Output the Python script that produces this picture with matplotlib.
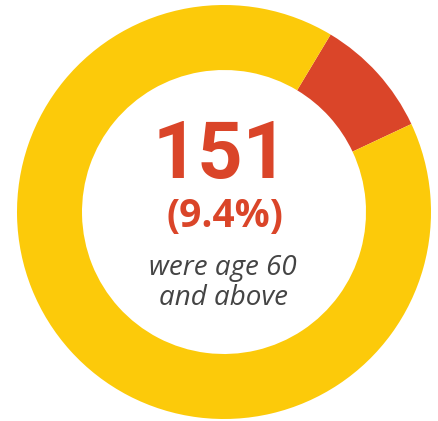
import matplotlib
matplotlib.use("Agg")
import matplotlib.pyplot as plt

labels = ["Age 60 and above", "Under 60"]
values = [151, 1455]
colors = ["#DA4529", "#FCCA0A"]
headline = "151"
share = "(9.4%)"
caption = ["were age 60", "and above"]

W, H = 439, 421
fig = plt.figure(figsize=(W / 100, H / 100), dpi=100)
ax = fig.add_axes([0, 0, 1, 1])
ax.pie(values, colors=colors, startangle=59, counterclock=False,
       center=(224, H - 212), radius=207,
       wedgeprops=dict(width=65, linewidth=0))
ax.set_xlim(0, W)
ax.set_ylim(0, H)
ax.set_aspect("equal")
ax.axis("off")

fam = ["Open Sans", "DejaVu Sans"]
ax.text(221, H - 178, headline, ha="center", va="baseline", fontsize=57,
        fontweight="bold", color=colors[0], family=["Roboto", "DejaVu Sans"])
ax.text(225, H - 227, share, ha="center", va="baseline", fontsize=28,
        fontweight="bold", color=colors[0], family=fam)
ax.text(223, H - 275, caption[0], ha="center", va="baseline", fontsize=20,
        style="italic", color="#444444", family=fam)
ax.text(224, H - 305, caption[1], ha="center", va="baseline", fontsize=20,
        style="italic", color="#444444", family=fam)

fig.savefig("out.png", dpi=100)
